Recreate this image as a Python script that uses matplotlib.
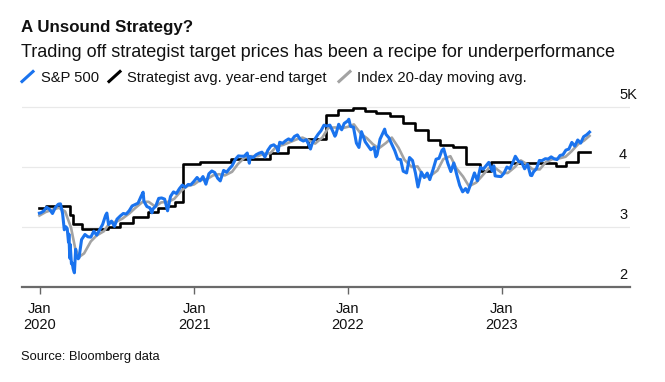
import matplotlib.pyplot as plt
import pandas as pd
from matplotlib.lines import Line2D

# S&P 500 closes (roughly weekly, extra points around the 2020 crash)
sp_dates = [
    "2019-12-31", "2020-01-03", "2020-01-10", "2020-01-17", "2020-01-24", "2020-01-31",
    "2020-02-07", "2020-02-14", "2020-02-19", "2020-02-24", "2020-02-28", "2020-03-03",
    "2020-03-06", "2020-03-09", "2020-03-10", "2020-03-12", "2020-03-13", "2020-03-16",
    "2020-03-18", "2020-03-20", "2020-03-23", "2020-03-26", "2020-03-27", "2020-04-01",
    "2020-04-03", "2020-04-09", "2020-04-17", "2020-04-24", "2020-05-01", "2020-05-08",
    "2020-05-15", "2020-05-22", "2020-05-29", "2020-06-05", "2020-06-08", "2020-06-12",
    "2020-06-19", "2020-06-26", "2020-07-02", "2020-07-10", "2020-07-17", "2020-07-24",
    "2020-07-31", "2020-08-07", "2020-08-14", "2020-08-21", "2020-08-28", "2020-09-02",
    "2020-09-04", "2020-09-11", "2020-09-18", "2020-09-23", "2020-09-25", "2020-10-02",
    "2020-10-09", "2020-10-16", "2020-10-23", "2020-10-30", "2020-11-06", "2020-11-13",
    "2020-11-20", "2020-11-27", "2020-12-04", "2020-12-11", "2020-12-18", "2020-12-24",
    "2020-12-31",
    "2021-01-08", "2021-01-15", "2021-01-22", "2021-01-29", "2021-02-05", "2021-02-12",
    "2021-02-19", "2021-02-26", "2021-03-04", "2021-03-12", "2021-03-19", "2021-03-26",
    "2021-04-01", "2021-04-09", "2021-04-16", "2021-04-23", "2021-04-30", "2021-05-07",
    "2021-05-12", "2021-05-14", "2021-05-21", "2021-05-28", "2021-06-04", "2021-06-11",
    "2021-06-18", "2021-06-25", "2021-07-02", "2021-07-09", "2021-07-16", "2021-07-19",
    "2021-07-23", "2021-07-30", "2021-08-06", "2021-08-13", "2021-08-20", "2021-08-27",
    "2021-09-03", "2021-09-10", "2021-09-17", "2021-09-24", "2021-10-01", "2021-10-04",
    "2021-10-08", "2021-10-15", "2021-10-22", "2021-10-29", "2021-11-05", "2021-11-12",
    "2021-11-19", "2021-11-26", "2021-12-01", "2021-12-03", "2021-12-10", "2021-12-17",
    "2021-12-23", "2021-12-31",
    "2022-01-03", "2022-01-07", "2022-01-14", "2022-01-21", "2022-01-27", "2022-02-02",
    "2022-02-11", "2022-02-18", "2022-02-24", "2022-03-04", "2022-03-08", "2022-03-11",
    "2022-03-18", "2022-03-29", "2022-04-01", "2022-04-08", "2022-04-14", "2022-04-22",
    "2022-04-29", "2022-05-06", "2022-05-12", "2022-05-20", "2022-05-27", "2022-06-03",
    "2022-06-10", "2022-06-16", "2022-06-24", "2022-07-01", "2022-07-08", "2022-07-14",
    "2022-07-22", "2022-07-29", "2022-08-05", "2022-08-12", "2022-08-16", "2022-08-19",
    "2022-08-26", "2022-09-02", "2022-09-09", "2022-09-16", "2022-09-23", "2022-09-30",
    "2022-10-07", "2022-10-12", "2022-10-21", "2022-10-28", "2022-11-04", "2022-11-11",
    "2022-11-18", "2022-11-25", "2022-12-01", "2022-12-09", "2022-12-13", "2022-12-16",
    "2022-12-23", "2022-12-30",
    "2023-01-06", "2023-01-13", "2023-01-20", "2023-01-27", "2023-02-02", "2023-02-10",
    "2023-02-17", "2023-02-24", "2023-03-03", "2023-03-10", "2023-03-13", "2023-03-17",
    "2023-03-24", "2023-03-31", "2023-04-06", "2023-04-14", "2023-04-21", "2023-04-28",
    "2023-05-05", "2023-05-12", "2023-05-19", "2023-05-26", "2023-06-02", "2023-06-09",
    "2023-06-16", "2023-06-23", "2023-06-30", "2023-07-07", "2023-07-14", "2023-07-21",
    "2023-07-28",
]
sp_values = [
    3231, 3235, 3265, 3330, 3295, 3225,
    3328, 3380, 3386, 3225, 2954, 3003,
    2972, 2747, 2882, 2481, 2711, 2386,
    2398, 2305, 2237, 2630, 2541, 2470,
    2489, 2790, 2875, 2837, 2831, 2930,
    2864, 2955, 3044, 3194, 3232, 3041,
    3098, 3009, 3130, 3185, 3225, 3216,
    3271, 3351, 3373, 3397, 3508, 3580,
    3427, 3341, 3319, 3237, 3298, 3348,
    3477, 3484, 3465, 3270, 3509, 3585,
    3558, 3638, 3699, 3663, 3709, 3703,
    3756,
    3825, 3768, 3841, 3714, 3887, 3934,
    3907, 3811, 3768, 3943, 3913, 3975,
    4020, 4129, 4185, 4180, 4181, 4233,
    4063, 4174, 4156, 4204, 4230, 4247,
    4166, 4281, 4352, 4370, 4327, 4259,
    4412, 4395, 4437, 4468, 4442, 4509,
    4535, 4458, 4433, 4455, 4357, 4300,
    4391, 4471, 4545, 4605, 4697, 4683,
    4698, 4595, 4513, 4538, 4712, 4620,
    4726, 4766,
    4796, 4677, 4663, 4398, 4326, 4589,
    4419, 4349, 4289, 4329, 4170, 4204,
    4463, 4631, 4546, 4488, 4393, 4272,
    4132, 4123, 3930, 3901, 4158, 4109,
    3901, 3667, 3912, 3825, 3899, 3790,
    3962, 4130, 4145, 4280, 4305, 4228,
    4058, 3924, 4067, 3873, 3693, 3586,
    3640, 3577, 3753, 3901, 3771, 3993,
    3965, 4026, 4077, 3934, 4019, 3852,
    3845, 3840,
    3895, 3999, 3973, 4071, 4179, 4090,
    4079, 3970, 4046, 3862, 3856, 3917,
    3971, 4109, 4105, 4138, 4133, 4169,
    4136, 4124, 4192, 4205, 4282, 4299,
    4410, 4348, 4450, 4399, 4505, 4536,
    4582,
]

# Index 20-day moving average (twice a month)
ma_dates = [
    "2019-12-31", "2020-01-15", "2020-02-01", "2020-02-15", "2020-03-01", "2020-03-15",
    "2020-03-25", "2020-04-03", "2020-04-15", "2020-05-01", "2020-05-15", "2020-06-01",
    "2020-06-15", "2020-07-01", "2020-07-15", "2020-08-01", "2020-08-15", "2020-09-01",
    "2020-09-15", "2020-10-01", "2020-10-15", "2020-11-01", "2020-11-15", "2020-12-01",
    "2020-12-15",
    "2021-01-01", "2021-01-15", "2021-02-01", "2021-02-15", "2021-03-01", "2021-03-15",
    "2021-04-01", "2021-04-15", "2021-05-01", "2021-05-15", "2021-06-01", "2021-06-15",
    "2021-07-01", "2021-07-15", "2021-08-01", "2021-08-15", "2021-09-01", "2021-09-15",
    "2021-10-01", "2021-10-15", "2021-11-01", "2021-11-15", "2021-12-01", "2021-12-15",
    "2022-01-01", "2022-01-15", "2022-02-01", "2022-02-15", "2022-03-01", "2022-03-15",
    "2022-04-01", "2022-04-15", "2022-05-01", "2022-05-15", "2022-06-01", "2022-06-15",
    "2022-07-01", "2022-07-15", "2022-08-01", "2022-08-15", "2022-09-01", "2022-09-15",
    "2022-10-01", "2022-10-15", "2022-11-01", "2022-11-15", "2022-12-01", "2022-12-15",
    "2023-01-01", "2023-01-15", "2023-02-01", "2023-02-15", "2023-03-01", "2023-03-15",
    "2023-04-01", "2023-04-15", "2023-05-01", "2023-05-15", "2023-06-01", "2023-06-15",
    "2023-07-01", "2023-07-15", "2023-07-28",
]
ma_values = [
    3190, 3250, 3290, 3320, 3260, 2990,
    2640, 2500, 2560, 2760, 2860, 2930,
    3070, 3090, 3140, 3230, 3320, 3420,
    3420, 3340, 3410, 3420, 3470, 3600,
    3680,
    3710, 3780, 3800, 3860, 3880, 3860,
    3920, 4050, 4160, 4180, 4180, 4220,
    4230, 4340, 4370, 4410, 4460, 4490,
    4440, 4390, 4490, 4650, 4660, 4640,
    4670, 4710, 4550, 4480, 4380, 4310,
    4400, 4490, 4320, 4120, 4000, 4010,
    3830, 3850, 3940, 4130, 4180, 3980,
    3840, 3680, 3740, 3850, 3980, 3990,
    3900, 3900, 4000, 4110, 4050, 3960,
    3960, 4080, 4130, 4140, 4170, 4260,
    4380, 4440, 4520,
]

# Strategist average year-end target (step changes)
target_dates = [
    "2019-12-31", "2020-01-16", "2020-03-12", "2020-03-20", "2020-04-09", "2020-06-11",
    "2020-07-09", "2020-08-08", "2020-09-13", "2020-10-07", "2020-10-27", "2020-11-16",
    "2020-12-06", "2021-01-14", "2021-03-30", "2021-06-29", "2021-08-12", "2021-09-28",
    "2021-11-11", "2021-12-08", "2022-01-13", "2022-02-10", "2022-03-09", "2022-04-10",
    "2022-05-11", "2022-06-08", "2022-07-10", "2022-08-07", "2022-09-07", "2022-10-09",
    "2022-11-09", "2022-12-07", "2023-01-23", "2023-05-10", "2023-06-03", "2023-06-30",
    "2023-07-28",
]
target_values = [
    3311, 3350, 3200, 3044, 2961, 3006,
    3072, 3161, 3256, 3311, 3350, 3422,
    4044, 4089, 4130, 4228, 4339, 4461,
    4867, 4950, 4978, 4933, 4894, 4856,
    4728, 4617, 4450, 4367, 4328, 4050,
    3930, 4089, 4061, 4010, 4089, 4250,
    4250,
]

y_ticks = [2000, 3000, 4000, 5000]
y_labels = ["2", "3", "4", "5K"]
x_ticks = ["2020-01-01", "2021-01-01", "2022-01-01", "2023-01-01"]
x_labels = ["Jan\n2020", "Jan\n2021", "Jan\n2022", "Jan\n2023"]

BLUE = "#1a73ee"
GREY = "#a3a3a3"
TEXT = "#111111"
W, H = 665, 382

plt.rcParams["font.family"] = ["Liberation Sans", "DejaVu Sans"]

fig = plt.figure(figsize=(W / 100, H / 100), dpi=100)
ax = fig.add_axes([21.7 / W, 1 - 287 / H, (630 - 21.7) / W, 186 / H])

sp = pd.Series(sp_values, index=pd.to_datetime(sp_dates))
ma = pd.Series(ma_values, index=pd.to_datetime(ma_dates))
tg = pd.Series(target_values, index=pd.to_datetime(target_dates))

ax.plot(ma.index, ma.values, color=GREY, lw=1.9, zorder=3, solid_joinstyle="round")
ax.plot(tg.index, tg.values, color="black", lw=1.9, drawstyle="steps-post", zorder=2)
ax.plot(sp.index, sp.values, color=BLUE, lw=2.2, zorder=4, solid_joinstyle="round")

ax.set_xlim(pd.Timestamp("2019-11-19"), pd.Timestamp("2023-11-01"))
ax.set_ylim(2000, 5100)

for v in y_ticks[1:]:
    ax.axhline(v, color="#e9e9e9", lw=0.9, zorder=1)
for v, lab in zip(y_ticks, y_labels):
    ax.annotate(lab, xy=(0.982, v), xycoords=("axes fraction", "data"),
                xytext=(0, 5.5), textcoords="offset points",
                ha="left", va="baseline", fontsize=10.5, color=TEXT)

ax.set_yticks([])
ax.set_xticks(pd.to_datetime(x_ticks))
ax.set_xticklabels(x_labels, fontsize=10.5, color=TEXT, linespacing=1.15)
ax.tick_params(axis="x", length=5, width=1, color="#666666", pad=6)

for s in ["top", "left", "right"]:
    ax.spines[s].set_visible(False)
ax.spines["bottom"].set_color("#6a6a6a")
ax.spines["bottom"].set_linewidth(1.6)
ax.patch.set_alpha(0)


def px(x, y):
    return x / W, 1 - y / H


fig.text(*px(21, 31.7), "A Unsound Strategy?", fontsize=12.2, fontweight="bold",
         color=TEXT, va="baseline")
fig.text(*px(21, 56.7), "Trading off strategist target prices has been a recipe for underperformance",
         fontsize=13, color=TEXT, va="baseline")

legend_items = [
    (22, 40.7, BLUE, "S&P 500"),
    (109, 127, "black", "Strategist avg. year-end target"),
    (339, 357, GREY, "Index 20-day moving avg."),
]
for x_icon, x_text, col, lab in legend_items:
    x0, y0 = px(x_icon, 81.5)
    x1, y1 = px(x_icon + 11, 71.5)
    fig.add_artist(Line2D([x0, x1], [y0, y1], color=col, lw=2.2, transform=fig.transFigure))
    fig.text(*px(x_text, 81.7), lab, fontsize=10.6, color=TEXT, va="baseline")

fig.text(*px(21, 360), "Source: Bloomberg data", fontsize=9.3, color=TEXT, va="baseline")

fig.savefig("out.png", dpi=100)
